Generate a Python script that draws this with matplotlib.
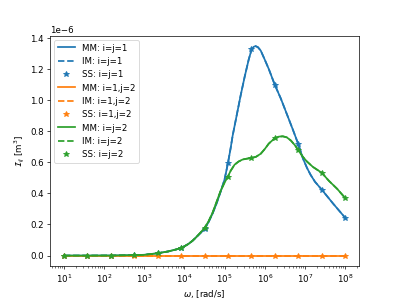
import numpy as np
import matplotlib
matplotlib.use("Agg")
import matplotlib.pyplot as plt

# sample frequencies (SS points), exponents of 10
ss_exp = [1.0, 1.5833, 2.1667, 2.75, 3.3333, 3.9167, 4.5, 5.0833,
          5.6667, 6.25, 6.8333, 7.4167, 8.0]
ss_11 = [0, 0, 0.0005, 0.003, 0.015, 0.05, 0.17, 0.594, 1.327, 1.098, 0.718, 0.425, 0.244]
ss_12 = [0] * 13
ss_22 = [0, 0, 0.0005, 0.003, 0.015, 0.05, 0.178, 0.508, 0.627, 0.755, 0.678, 0.533, 0.371]

# model curves (MM and IM coincide)
c11_exp = [1.0, 1.58, 2.17, 2.75, 3.0, 3.33, 3.6, 3.8, 3.92, 4.0, 4.1, 4.2, 4.3, 4.4,
           4.5, 4.6, 4.7, 4.8, 4.9, 5.0, 5.083, 5.15, 5.2, 5.3, 5.4, 5.5, 5.6, 5.667,
           5.72, 5.77, 5.83, 5.9, 6.0, 6.1, 6.25, 6.4, 6.55, 6.7, 6.833, 6.95, 7.05,
           7.14, 7.25, 7.417, 7.7, 8.0]
c11 = [0, 0, 0.0005, 0.003, 0.005, 0.015, 0.027, 0.04, 0.05, 0.06, 0.075, 0.095, 0.12,
       0.145, 0.17, 0.215, 0.27, 0.335, 0.41, 0.49, 0.594, 0.69, 0.77, 0.90, 1.03, 1.15,
       1.26, 1.32, 1.342, 1.347, 1.34, 1.318, 1.26, 1.20, 1.098, 1.01, 0.91, 0.81, 0.718,
       0.625, 0.565, 0.52, 0.475, 0.425, 0.335, 0.244]
c22_exp = [1.0, 1.58, 2.17, 2.75, 3.0, 3.33, 3.6, 3.8, 3.92, 4.0, 4.1, 4.2, 4.3, 4.4,
           4.5, 4.6, 4.7, 4.8, 4.9, 5.0, 5.083, 5.15, 5.25, 5.35, 5.45, 5.55, 5.667,
           5.78, 5.9, 6.0, 6.1, 6.25, 6.35, 6.45, 6.55, 6.65, 6.75, 6.833, 6.95, 7.05,
           7.2, 7.417, 7.6, 7.8, 8.0]
c22 = [0, 0, 0.0005, 0.003, 0.005, 0.015, 0.027, 0.04, 0.05, 0.06, 0.075, 0.095, 0.12,
       0.148, 0.178, 0.22, 0.275, 0.345, 0.415, 0.47, 0.508, 0.545, 0.585, 0.605, 0.618,
       0.623, 0.628, 0.635, 0.655, 0.685, 0.72, 0.755, 0.765, 0.767, 0.76, 0.74, 0.71,
       0.678, 0.635, 0.605, 0.57, 0.533, 0.48, 0.43, 0.371]
c12_exp = [1.0, 8.0]
c12 = [0, 0]

w_ss = 10.0 ** np.array(ss_exp)
curves = [
    ("i=j=1", c11_exp, c11, ss_11),
    ("i=1,j=2", c12_exp, c12, ss_12),
    ("i=j=2", c22_exp, c22, ss_22),
]

fig, ax = plt.subplots(figsize=(6.4, 4.8), dpi=62.35)
for k, (lab, cx, cy, ss) in enumerate(curves):
    col = "C%d" % k
    w = 10.0 ** np.array(cx)
    y = np.array(cy) * 1e-6
    ax.plot(w, y, color=col, lw=2, label="MM: " + lab)
    ax.plot(w, y, "--", color=col, lw=2, label="IM: " + lab)
    ax.plot(w_ss, np.array(ss) * 1e-6, "*", color=col, ms=7, label="SS: " + lab)

ax.set_xscale("log")
ax.set_xlabel(r"$\omega$, [rad/s]")
ax.set_ylabel(r"$\mathcal{I}_{ij}$ [m$^3$]")
ax.legend(loc="upper left")
fig.savefig("out.png", dpi=62.35)
